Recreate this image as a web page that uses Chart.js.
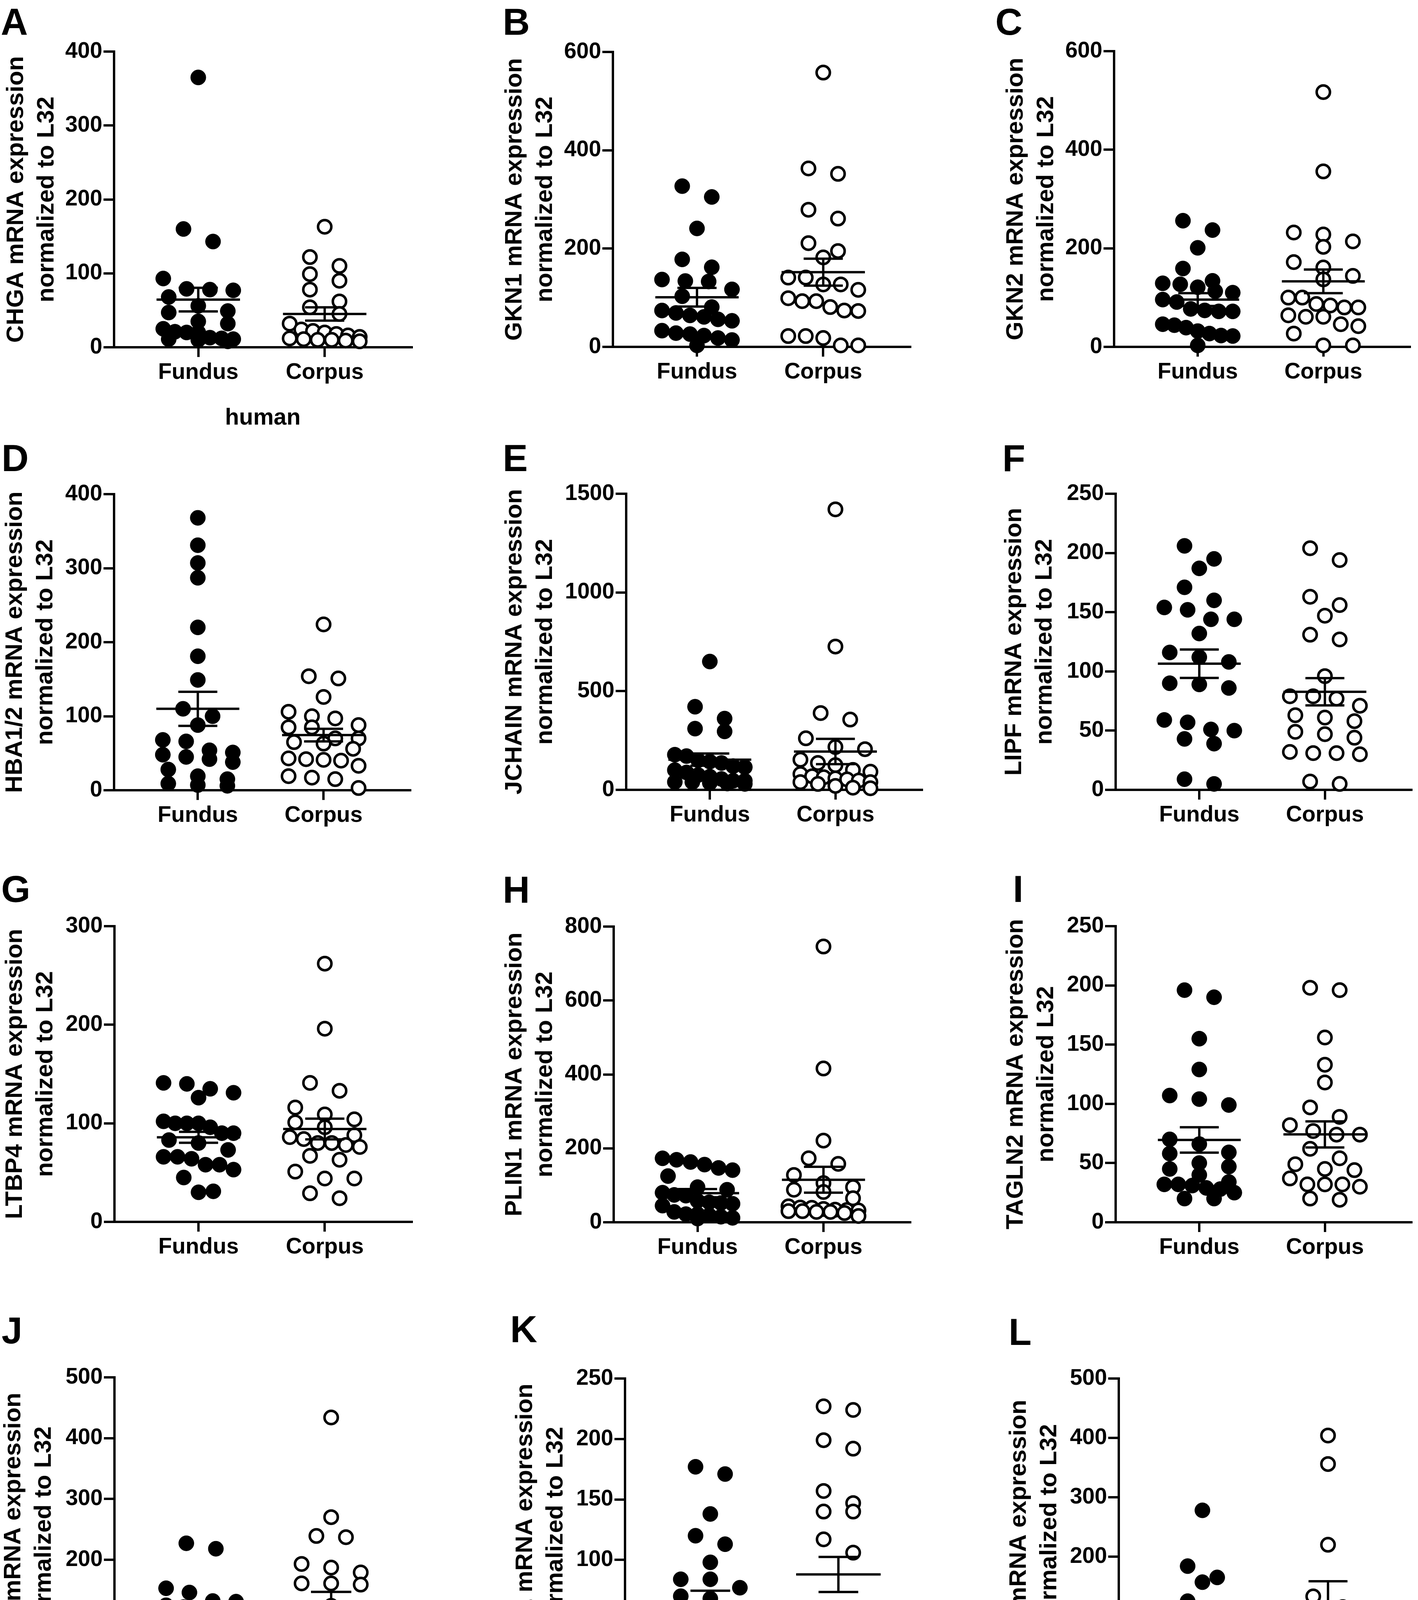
<!DOCTYPE html>
<html>
<head>
<meta charset="utf-8">
<script src="https://cdn.jsdelivr.net/npm/chart.js@4.4.1/dist/chart.umd.min.js"></script>
<style>
  html, body { margin: 0; padding: 0; background: #fff; }
  #fig { position: relative; width: 3630px; height: 4413px; overflow: hidden; background: #fff; }
  #fig canvas { position: absolute; }
  .letter { position: absolute; font: bold 96px "Liberation Sans", Arial, sans-serif; line-height: 1; color: #000; }
</style>
</head>
<body>
<div id="fig"></div>
<script>
const groups = ['Fundus', 'Corpus'];

// A - CHGA
const chgaTitle = ['CHGA mRNA expression', 'normalized to L32'];
const chgaTicks = [0, 100, 200, 300, 400];
const chgaFundus = [365, 160, 143, 93, 79, 78, 77, 68, 56, 49, 47, 35, 32, 25, 21, 20, 20, 13, 12, 11, 11, 10, 8];
const chgaCorpus = [163, 122, 110, 99, 90, 78, 62, 54, 45, 32, 24, 22, 20, 18, 16, 14, 12, 11, 10, 10, 9, 8];
const chgaMean = [64.5, 45];
const chgaSem = [16, 9];

// B - GKN1
const gkn1Title = ['GKN1 mRNA expression', 'normalized to L32'];
const gkn1Ticks = [0, 200, 400, 600];
const gkn1Fundus = [327, 305, 241, 178, 162, 137, 133, 134, 117, 103, 81, 74, 69, 64, 61, 56, 53, 33, 28, 26, 23, 18, 14, 3];
const gkn1Corpus = [558, 363, 352, 279, 261, 211, 195, 182, 141, 141, 127, 127, 116, 99, 93, 93, 81, 74, 73, 22, 22, 18, 3, 3];
const gkn1Mean = [101, 152];
const gkn1Sem = [19, 27.5];

// C - GKN2
const gkn2Title = ['GKN2 mRNA expression', 'normalized to L32'];
const gkn2Ticks = [0, 200, 400, 600];
const gkn2Fundus = [256, 237, 201, 159, 134, 129, 127, 121, 113, 110, 96, 91, 77, 74, 72, 72, 46, 44, 39, 32, 27, 23, 22, 3];
const gkn2Corpus = [517, 356, 232, 228, 214, 203, 172, 161, 144, 137, 100, 100, 87, 84, 80, 80, 64, 61, 61, 46, 42, 27, 3, 3];
const gkn2Mean = [96, 133];
const gkn2Sem = [13, 24];

// D - HBA1/2
const hbaTitle = ['HBA1/2 mRNA expression', 'normalized to L32'];
const hbaTicks = [0, 100, 200, 300, 400];
const hbaFundus = [368, 331, 307, 287, 220, 181, 149, 110, 100, 88, 68, 66, 54, 51, 48, 45, 42, 38, 28, 19, 15, 9, 7, 6];
const hbaCorpus = [224, 154, 151, 126, 106, 100, 97, 88, 85, 85, 70, 70, 65, 63, 56, 43, 42, 41, 40, 33, 19, 17, 15, 3];
const hbaMean = [110, 74.5];
const hbaSem = [23, 8.5];

// E - JCHAIN
const jchainTitle = ['JCHAIN mRNA expression', 'normalized to L32'];
const jchainTicks = [0, 500, 1000, 1500];
const jchainFundus = [650, 421, 361, 310, 296, 178, 171, 150, 143, 136, 120, 115, 100, 88, 75, 67, 55, 46, 46, 40, 39, 35, 32, 30];
const jchainCorpus = [1421, 726, 389, 356, 261, 217, 206, 153, 136, 125, 101, 92, 80, 69, 64, 58, 53, 47, 39, 39, 30, 20, 11, 8];
const jchainMean = [153, 194];
const jchainSem = [31, 64];

// F - LIPF
const lipfTitle = ['LIPF mRNA expression', 'normalized to L32'];
const lipfTicks = [0, 50, 100, 150, 200, 250];
const lipfFundus = [206, 195, 187, 171, 160, 154, 152, 144, 144, 132, 116, 112, 108, 90, 89, 86, 59, 57, 51, 50, 43, 39, 9, 5];
const lipfCorpus = [204, 194, 163, 156, 147, 131, 127, 96, 79, 79, 77, 71, 63, 61, 58, 49, 47, 44, 32, 31, 31, 30, 7, 5];
const lipfMean = [106.5, 82.8];
const lipfSem = [12, 11.5];

// G - LTBP4
const ltbp4Title = ['LTBP4 mRNA expression', 'normalized to L32'];
const ltbp4Ticks = [0, 100, 200, 300];
const ltbp4Fundus = [141, 140, 135, 131, 126, 102, 100, 100, 100, 96, 90, 90, 83, 80, 73, 66, 66, 64, 58, 58, 53, 45, 31, 30];
const ltbp4Corpus = [262, 196, 141, 133, 116, 109, 104, 101, 96, 88, 86, 84, 80, 80, 78, 76, 67, 63, 51, 44, 44, 29, 24];
const ltbp4Mean = [85.8, 94.2];
const ltbp4Sem = [5.5, 10.5];

// H - PLIN1
const plin1Title = ['PLIN1 mRNA expression', 'normalized to L32'];
const plin1Ticks = [0, 200, 400, 600, 800];
const plin1Fundus = [173, 169, 163, 156, 147, 141, 125, 95, 88, 80, 74, 72, 58, 54, 52, 50, 45, 28, 22, 22, 19, 15, 12, 10];
const plin1Corpus = [746, 416, 221, 173, 158, 128, 106, 95, 88, 82, 65, 43, 40, 39, 36, 34, 33, 32, 30, 30, 28, 28, 25, 17];
const plin1Mean = [78.7, 115];
const plin1Sem = [11, 35];

// I - TAGLN2
const tagln2Title = ['TAGLN2 mRNA expression', 'normalized L32'];
const tagln2Ticks = [0, 50, 100, 150, 200, 250];
const tagln2Fundus = [196, 190, 155, 129, 107, 104, 99, 70, 66, 59, 58, 50, 47, 45, 40, 34, 32, 32, 31, 29, 28, 25, 20, 20];
const tagln2Corpus = [198, 196, 156, 133, 118, 97, 89, 82, 77, 74, 74, 62, 54, 49, 45, 44, 37, 32, 32, 32, 30, 20, 19];
const tagln2Mean = [69.5, 74.2];
const tagln2Sem = [10.7, 11];

// J - TFF1
const tff1Title = ['TFF1 mRNA expression', 'normalized to L32'];
const tff1Ticks = [0, 100, 200, 300, 400, 500];
const tff1Fundus = [227, 218, 153, 146, 132, 131, 125, 122, 109, 105, 103, 93, 81, 79, 77, 75, 65, 59, 49, 35, 32, 26, 23, 8];
const tff1Corpus = [434, 270, 239, 237, 193, 187, 179, 161, 161, 159, 124, 87, 79, 68, 67, 66, 65, 61, 57, 55, 35, 8, 5];
const tff1Mean = [95, 127];
const tff1Sem = [10.5, 20];

// K - TGFb1
const tgfb1Title = ['TGF\u03B21 mRNA expression', 'normalized to L32'];
const tgfb1Ticks = [0, 50, 100, 150, 200, 250];
const tgfb1Fundus = [177, 171, 138, 120, 113, 98, 84, 84, 77, 70, 68, 60, 42, 40, 29, 25, 23, 22, 18, 18, 17, 15, 14, 14];
const tgfb1Corpus = [227, 224, 199, 192, 157, 147, 140, 140, 117, 106, 53, 50, 43, 40, 37, 36, 36, 35, 32, 31, 21, 20, 18, 16];
const tgfb1Mean = [64.5, 88];
const tgfb1Sem = [10, 14.5];

// L - VIP
const vipTitle = ['VIP mRNA expression', 'normalized to L32'];
const vipTicks = [0, 100, 200, 300, 400, 500];
const vipFundus = [278, 184, 165, 157, 125, 110, 95, 77, 71, 21, 9, 2, 2];
const vipCorpus = [404, 356, 220, 133, 115, 94, 80, 73, 57, 32, 15, 15, 12];
const vipMean = [100, 123];
const vipSem = [23, 35.5];

const panels = [
  { letter: 'A', title: chgaTitle, ticks: chgaTicks, fundus: chgaFundus, corpus: chgaCorpus, mean: chgaMean, sem: chgaSem, xTitle: 'human' },
  { letter: 'B', title: gkn1Title, ticks: gkn1Ticks, fundus: gkn1Fundus, corpus: gkn1Corpus, mean: gkn1Mean, sem: gkn1Sem },
  { letter: 'C', title: gkn2Title, ticks: gkn2Ticks, fundus: gkn2Fundus, corpus: gkn2Corpus, mean: gkn2Mean, sem: gkn2Sem },
  { letter: 'D', title: hbaTitle, ticks: hbaTicks, fundus: hbaFundus, corpus: hbaCorpus, mean: hbaMean, sem: hbaSem },
  { letter: 'E', title: jchainTitle, ticks: jchainTicks, fundus: jchainFundus, corpus: jchainCorpus, mean: jchainMean, sem: jchainSem },
  { letter: 'F', title: lipfTitle, ticks: lipfTicks, fundus: lipfFundus, corpus: lipfCorpus, mean: lipfMean, sem: lipfSem },
  { letter: 'G', title: ltbp4Title, ticks: ltbp4Ticks, fundus: ltbp4Fundus, corpus: ltbp4Corpus, mean: ltbp4Mean, sem: ltbp4Sem },
  { letter: 'H', title: plin1Title, ticks: plin1Ticks, fundus: plin1Fundus, corpus: plin1Corpus, mean: plin1Mean, sem: plin1Sem },
  { letter: 'I', title: tagln2Title, ticks: tagln2Ticks, fundus: tagln2Fundus, corpus: tagln2Corpus, mean: tagln2Mean, sem: tagln2Sem },
  { letter: 'J', title: tff1Title, ticks: tff1Ticks, fundus: tff1Fundus, corpus: tff1Corpus, mean: tff1Mean, sem: tff1Sem },
  { letter: 'K', title: tgfb1Title, ticks: tgfb1Ticks, fundus: tgfb1Fundus, corpus: tgfb1Corpus, mean: tgfb1Mean, sem: tgfb1Sem },
  { letter: 'L', title: vipTitle, ticks: vipTicks, fundus: vipFundus, corpus: vipCorpus, mean: vipMean, sem: vipSem }
];

// page placement of each panel: plot area edges, centre of first title line, letter corner
const frames = [
  { left: 292, right: 1057, top: 132, bottom: 889, titleX: 42, lx: 2, ly: 8 },
  { left: 1569, right: 2333, top: 133, bottom: 888, titleX: 1318, lx: 1287, ly: 8 },
  { left: 2852, right: 3612, top: 131, bottom: 888, titleX: 2601, lx: 2548, ly: 8 },
  { left: 292, right: 1053, top: 1265, bottom: 2023, titleX: 39, lx: 4, ly: 1125 },
  { left: 1603, right: 2363, top: 1264, bottom: 2022, titleX: 1318, lx: 1287, ly: 1125 },
  { left: 2856, right: 3616, top: 1264, bottom: 2022, titleX: 2597, lx: 2566, ly: 1125 },
  { left: 293, right: 1057, top: 2371, bottom: 3128, titleX: 39, lx: 3, ly: 2228 },
  { left: 1571, right: 2333, top: 2372, bottom: 3129, titleX: 1318, lx: 1287, ly: 2230 },
  { left: 2856, right: 3616, top: 2371, bottom: 3129, titleX: 2601, lx: 2593, ly: 2228 },
  { left: 293, right: 1080, top: 3526, bottom: 4304, titleX: 35, lx: 4, ly: 3358 },
  { left: 1600, right: 2375, top: 3529, bottom: 4303, titleX: 1345, lx: 1306, ly: 3355 },
  { left: 2864, right: 3624, top: 3529, bottom: 4289, titleX: 2609, lx: 2582, ly: 3362 }
];

const FONT = '"Liberation Sans", Arial, sans-serif';
const X_MIN = 0.334, X_MAX = 2.687;
const TOP_PAD = 50, RIGHT_PAD = 20;
const TITLE_SIZE = 62, TITLE_LH = 1.26;

// GraphPad-style scatter: values falling in the same band sit side by side
function swarm(values, center, f, yMax) {
  const uPerPx = (X_MAX - X_MIN) / (f.right - f.left);
  const binVal = 36 * yMax / (f.bottom - f.top);
  const order = values.map((v, i) => i).sort((a, b) => values[b] - values[a] || a - b);
  const bins = [];
  let cur = null;
  order.forEach(i => {
    if (!cur || cur.top - values[i] > binVal || cur.items.length >= 7) {
      cur = { top: values[i], items: [] };
      bins.push(cur);
    }
    cur.items.push(i);
  });
  const pts = [];
  bins.forEach(b => {
    const n = b.items.length;
    const gap = n > 1 ? Math.min(76, 180 / (n - 1)) : 0;
    b.items.forEach((i, k) => pts.push({ x: center + (k - (n - 1) / 2) * gap * uPerPx, y: values[i] }));
  });
  return pts;
}

function lineSet(data) {
  return {
    data: data, showLine: true, pointRadius: 0, borderColor: '#000', borderWidth: 6,
    borderCapStyle: 'butt', borderJoinStyle: 'miter', tension: 0, clip: false
  };
}

function meanLine(c, m) {
  return [{ x: c - 0.33, y: m }, { x: c + 0.33, y: m }];
}

function semBar(c, m, s) {
  const w = 0.155;
  return [
    { x: c - w, y: m + s }, { x: c + w, y: m + s }, { x: c, y: m + s },
    { x: c, y: m - s }, { x: c - w, y: m - s }, { x: c + w, y: m - s }
  ];
}

const fig = document.getElementById('fig');

panels.forEach((p, n) => {
  const f = frames[n];
  const yMax = p.ticks[p.ticks.length - 1];
  const xAxisH = p.xTitle ? 220 : 105;
  const cLeft = f.titleX - Math.round(TITLE_SIZE * TITLE_LH / 2);
  const cTop = f.top - TOP_PAD;
  const cW = f.right - cLeft + RIGHT_PAD;
  const cH = (f.bottom - f.top) + TOP_PAD + xAxisH;

  const letter = document.createElement('div');
  letter.className = 'letter';
  letter.textContent = p.letter;
  letter.style.left = f.lx + 'px';
  letter.style.top = f.ly + 'px';
  fig.appendChild(letter);

  const canvas = document.createElement('canvas');
  canvas.width = cW;
  canvas.height = cH;
  canvas.style.left = cLeft + 'px';
  canvas.style.top = cTop + 'px';
  canvas.style.width = cW + 'px';
  canvas.style.height = cH + 'px';
  fig.appendChild(canvas);

  const datasets = [
    lineSet(meanLine(1, p.mean[0])),
    lineSet(semBar(1, p.mean[0], p.sem[0])),
    lineSet(meanLine(2, p.mean[1])),
    lineSet(semBar(2, p.mean[1], p.sem[1])),
    {
      label: groups[0], data: swarm(p.fundus, 1, f, yMax),
      pointRadius: 19.5, pointBackgroundColor: '#000', pointBorderColor: '#000', pointBorderWidth: 1, clip: false
    },
    {
      label: groups[1], data: swarm(p.corpus, 2, f, yMax),
      pointRadius: 17, pointBackgroundColor: '#fff', pointBorderColor: '#000', pointBorderWidth: 6.5, clip: false
    }
  ];

  new Chart(canvas, {
    type: 'scatter',
    data: { datasets: datasets },
    options: {
      responsive: false,
      animation: false,
      devicePixelRatio: 1,
      events: [],
      layout: { padding: { left: 0, top: TOP_PAD, right: RIGHT_PAD, bottom: 0 } },
      plugins: { legend: { display: false }, tooltip: { enabled: false } },
      scales: {
        x: {
          type: 'linear', min: X_MIN, max: X_MAX,
          afterBuildTicks: s => { s.ticks = [{ value: 1 }, { value: 2 }]; },
          afterFit: s => { s.height = xAxisH; },
          ticks: {
            callback: v => groups[v - 1], color: '#000', padding: 6,
            maxRotation: 0, autoSkip: false,
            font: { family: FONT, size: 57, weight: 'bold' }
          },
          grid: { drawOnChartArea: false, drawTicks: true, tickLength: 25, lineWidth: 6, color: '#000' },
          border: { display: true, color: '#000', width: 6 },
          title: {
            display: !!p.xTitle, text: p.xTitle || '', color: '#000',
            font: { family: FONT, size: 59, weight: 'bold', lineHeight: 1.2 },
            padding: { top: 0, bottom: 3 }
          }
        },
        y: {
          type: 'linear', min: 0, max: yMax,
          afterBuildTicks: s => { s.ticks = p.ticks.map(v => ({ value: v })); },
          afterFit: s => { s.width = f.left - cLeft; },
          ticks: {
            callback: v => String(v), color: '#000', padding: 3,
            font: { family: FONT, size: 57, weight: 'bold' }
          },
          grid: { drawOnChartArea: false, drawTicks: true, tickLength: 27, lineWidth: 6, color: '#000' },
          border: { display: true, color: '#000', width: 6 },
          title: {
            display: true, text: p.title, color: '#000',
            font: { family: FONT, size: TITLE_SIZE, weight: 'bold', lineHeight: TITLE_LH },
            padding: 0
          }
        }
      }
    }
  });
});
</script>
</body>
</html>
